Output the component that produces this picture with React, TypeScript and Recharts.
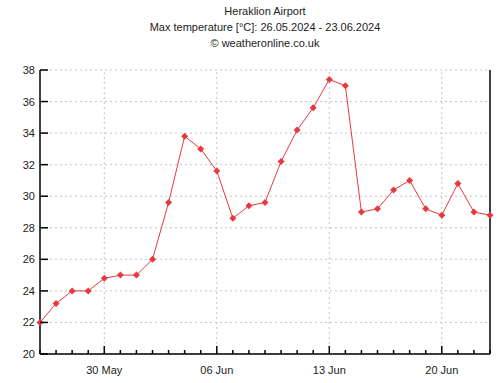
import React from "react";
import {
  LineChart,
  Line,
  XAxis,
  YAxis,
  CartesianGrid,
  ReferenceLine,
} from "recharts";

// 26.05.2024 .. 23.06.2024, one value per day
const dates = [
  "26.05", "27.05", "28.05", "29.05", "30.05", "31.05", "01.06", "02.06",
  "03.06", "04.06", "05.06", "06.06", "07.06", "08.06", "09.06", "10.06",
  "11.06", "12.06", "13.06", "14.06", "15.06", "16.06", "17.06", "18.06",
  "19.06", "20.06", "21.06", "22.06", "23.06",
];
const maxTemp = [
  22, 23.2, 24, 24, 24.8, 25, 25, 26, 29.6, 33.8, 33, 31.6, 28.6, 29.4, 29.6,
  32.2, 34.2, 35.6, 37.4, 37, 29, 29.2, 30.4, 31, 29.2, 28.8, 30.8, 29, 28.8,
];
const weekTicks = [4, 11, 18, 25];
const weekLabels = ["30 May", "06 Jun", "13 Jun", "20 Jun"];
const yTicks = [20, 22, 24, 26, 28, 30, 32, 34, 36, 38];

const data = maxTemp.map((v, i) => ({ day: i, date: dates[i], temp: v }));
const dayTicks = dates.map((_, i) => i);

const RED = "#e8393e";
const FONT = "'Liberation Sans', Arial, sans-serif";

function labelFor(day: number) {
  const i = weekTicks.indexOf(day);
  return i >= 0 ? weekLabels[i] : null;
}

function BottomTick(props: any) {
  const { x, y, payload } = props;
  const label = labelFor(payload.value);
  const len = label ? 8 : 4;
  return (
    <g>
      <line x1={x} x2={x} y1={y} y2={y - len} stroke="#000" strokeWidth={1.5} />
      {label && (
        <text x={x} y={y + 20} textAnchor="middle" fontSize={11} fill="#222" fontFamily={FONT}>
          {label}
        </text>
      )}
    </g>
  );
}

function TopTick(props: any) {
  const { x, y, payload } = props;
  const len = labelFor(payload.value) ? 8 : 4;
  return <line x1={x} x2={x} y1={y} y2={y + len} stroke="#000" strokeWidth={1.5} />;
}

function LeftTick(props: any) {
  const { x, y, payload } = props;
  return (
    <g>
      <line x1={x} x2={x + 8} y1={y} y2={y} stroke="#000" strokeWidth={1.5} />
      <text x={x - 5} y={y + 4} textAnchor="end" fontSize={11} fill="#222" fontFamily={FONT}>
        {payload.value}
      </text>
    </g>
  );
}

function RightTick(props: any) {
  const { x, y } = props;
  return <line x1={x} x2={x - 8} y1={y} y2={y} stroke="#000" strokeWidth={1.5} />;
}

function Diamond(props: any) {
  const { cx, cy, index } = props;
  const r = 3.5;
  return (
    <polygon
      key={index}
      points={`${cx},${cy - r} ${cx + r},${cy} ${cx},${cy + r} ${cx - r},${cy}`}
      fill={RED}
    />
  );
}

const titleStyle: React.CSSProperties = {
  position: "absolute",
  left: 40,
  width: 450,
  textAlign: "center",
  fontFamily: FONT,
  fontSize: 11,
  color: "#222",
  lineHeight: "13px",
};

export default function App() {
  return (
    <div style={{ position: "absolute", left: 0, top: 0, width: 503, height: 383, background: "#fff" }}>
      <div style={{ ...titleStyle, top: 5 }}>Heraklion Airport</div>
      <div style={{ ...titleStyle, top: 21 }}>Max temperature [°C]: 26.05.2024 - 23.06.2024</div>
      <div style={{ ...titleStyle, top: 37 }}>© weatheronline.co.uk</div>
      <LineChart
        width={503}
        height={383}
        data={data}
        margin={{ top: 70, right: 0, bottom: 0, left: 0 }}
        style={{ position: "absolute", left: 0, top: 0 }}
      >
        <CartesianGrid
          vertical={false}
          yAxisId="l"
          xAxisId="b"
          stroke="#c4c4c4"
          strokeDasharray="2 3"
        />
        {weekTicks.map((d) => (
          <ReferenceLine
            key={d}
            x={d}
            xAxisId="b"
            yAxisId="l"
            stroke="#c4c4c4"
            strokeDasharray="2 3"
          />
        ))}
        <XAxis
          xAxisId="b"
          dataKey="day"
          type="number"
          domain={[0, 28]}
          ticks={dayTicks}
          interval={0}
          height={29}
          tickSize={0}
          tickMargin={0}
          tickLine={false}
          axisLine={{ stroke: "#000", strokeWidth: 1.5 }}
          tick={<BottomTick />}
        />
        <XAxis
          xAxisId="t"
          orientation="top"
          dataKey="day"
          type="number"
          domain={[0, 28]}
          ticks={dayTicks}
          interval={0}
          height={0}
          tickSize={0}
          tickMargin={0}
          tickLine={false}
          axisLine={{ stroke: "#000", strokeWidth: 1.5 }}
          tick={<TopTick />}
        />
        <YAxis
          yAxisId="l"
          domain={[20, 38]}
          ticks={yTicks}
          interval={0}
          width={40}
          tickSize={0}
          tickMargin={0}
          tickLine={false}
          axisLine={{ stroke: "#000", strokeWidth: 1.5 }}
          tick={<LeftTick />}
        />
        <YAxis
          yAxisId="r"
          orientation="right"
          domain={[20, 38]}
          ticks={yTicks}
          interval={0}
          width={13}
          tickSize={0}
          tickMargin={0}
          tickLine={false}
          axisLine={{ stroke: "#000", strokeWidth: 1.5 }}
          tick={<RightTick />}
        />
        <Line
          xAxisId="b"
          yAxisId="l"
          dataKey="temp"
          type="linear"
          stroke={RED}
          strokeWidth={1}
          dot={<Diamond />}
          activeDot={false}
          isAnimationActive={false}
        />
      </LineChart>
    </div>
  );
}
